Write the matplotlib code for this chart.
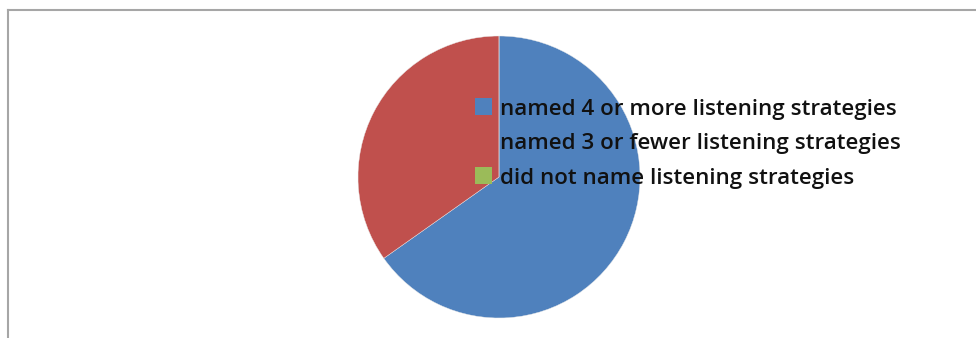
import matplotlib
matplotlib.use("Agg")
import matplotlib.pyplot as plt
from matplotlib.lines import Line2D

# Respostas agrupadas
labels = [
    "named 4 or more listening strategies",
    "named 3 or fewer listening strategies",
    "did not name listening strategies",
]
counts = [15, 8, 0]
colors = ["#4F81BD", "#C0504D", "#9BBB59"]

W, H = 976, 338
fig = plt.figure(figsize=(W / 100, H / 100), dpi=100)

# Moldura da área do gráfico (só topo e lado esquerdo aparecem)
frame_color = "#A6A6A6"
fig.add_artist(Line2D([8 / W, 1.0], [1 - 10 / H, 1 - 10 / H], color=frame_color, lw=1.5,
                      transform=fig.transFigure))
fig.add_artist(Line2D([8 / W, 8 / W], [1 - 10 / H, 0.0], color=frame_color, lw=1.5,
                      transform=fig.transFigure))

# Pizza centrada em (499, 177) px, raio 141 px
cx, cy, r = 499, 177, 141
ax = fig.add_axes([(cx - r) / W, (H - cy - r) / H, 2 * r / W, 2 * r / H])
wedges, _ = ax.pie(counts, colors=colors, startangle=90, counterclock=False, radius=1,
                   wedgeprops=dict(edgecolor="#E8E8E8", linewidth=0.3))
ax.set_xlim(-1, 1)
ax.set_ylim(-1, 1)
ax.set_aspect("equal")
ax.axis("off")

fs = 16.1
fs_px = fs * 100 / 72
leg = fig.legend(wedges, labels, loc="upper left",
                 bbox_to_anchor=(475 / W, 1 - 98.5 / H),
                 frameon=False,
                 prop={"family": "Open Sans", "weight": "semibold", "size": fs},
                 handlelength=17 / fs_px, handleheight=17 / fs_px,
                 handletextpad=8 / fs_px, borderpad=0, borderaxespad=0,
                 labelspacing=0.6)
for h in leg.legend_handles:
    h.set_edgecolor("none")
for t in leg.get_texts():
    t.set_color("#111111")

fig.savefig("out.png", dpi=100)
